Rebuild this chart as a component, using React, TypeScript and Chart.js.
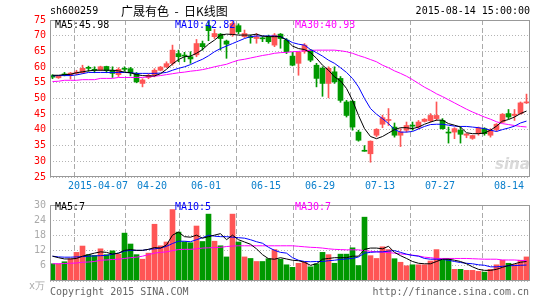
import React, { useEffect, useRef } from 'react';
import { Chart, registerables } from 'chart.js';

Chart.register(...registerables);

// ---- data ----
const opens = [57.3, 56.6, 57.6, 57.4, 58.0, 58.2, 59.8, 59.2, 59.1, 60.2, 59.0, 57.6, 59.5, 59.5, 58.0, 54.8, 56.7, 57.5, 59.0, 60.1,
  61.2, 64.3, 63.7, 63.3, 63.9, 67.5, 73.0, 69.7, 70.5, 68.3, 70.4, 73.2, 69.7, 69.7, 69.1, 69.2, 69.5, 67.0, 70.5, 68.6,
  63.5, 61.2, 65.0, 65.4, 60.6, 59.6, 54.8, 58.5, 56.4, 48.9, 49.1, 39.3, 33.2, 32.4, 38.3, 41.8, 43.0, 40.9, 38.3, 39.9,
  41.3, 40.9, 42.7, 42.9, 43.6, 43.0, 39.2, 39.3, 39.9, 38.3, 37.3, 38.8, 40.4, 38.3, 40.1, 42.5, 45.2, 44.6, 45.2, 48.6];
const closes = [56.8, 57.1, 57.5, 58.1, 58.4, 59.6, 59.6, 59.0, 60.1, 58.9, 58.0, 59.3, 59.3, 58.2, 55.3, 55.9, 57.4, 59.0, 60.0, 61.1,
  65.4, 63.3, 63.5, 62.6, 67.5, 66.5, 71.6, 70.7, 69.1, 67.3, 73.9, 71.3, 70.7, 69.4, 69.6, 69.0, 68.1, 70.2, 69.1, 64.9,
  60.6, 64.7, 67.0, 62.2, 56.4, 54.8, 59.6, 55.3, 49.4, 44.6, 40.9, 36.7, 33.2, 36.4, 40.2, 43.9, 43.3, 38.3, 39.3, 41.4,
  41.2, 42.5, 43.4, 44.6, 44.6, 40.4, 39.0, 40.4, 38.6, 38.7, 38.2, 40.6, 38.8, 39.9, 41.8, 45.0, 44.1, 45.0, 48.6, 48.8];
const highs = [57.6, 57.3, 58.3, 58.3, 59.0, 60.6, 60.3, 60.1, 60.3, 60.3, 60.1, 59.8, 60.1, 59.9, 58.3, 56.3, 57.8, 59.5, 60.2, 61.7,
  67.0, 65.4, 64.7, 64.9, 68.8, 68.3, 74.5, 72.0, 70.7, 68.6, 74.5, 73.8, 71.8, 70.2, 70.7, 69.7, 70.2, 70.7, 70.7, 69.1,
  64.7, 64.9, 67.5, 65.6, 61.2, 60.1, 60.1, 60.1, 57.0, 49.4, 49.4, 39.9, 35.0, 36.5, 40.4, 44.7, 46.8, 42.2, 40.4, 42.5,
  42.5, 43.0, 43.6, 45.2, 48.9, 43.6, 40.9, 40.7, 40.9, 38.8, 38.3, 40.9, 40.7, 40.4, 42.0, 45.2, 46.5, 46.5, 48.9, 51.4];
const lows = [56.3, 56.4, 57.2, 56.2, 57.6, 58.0, 58.7, 58.2, 58.9, 58.2, 56.7, 57.0, 58.7, 57.2, 55.0, 53.7, 56.3, 56.9, 58.8, 59.8,
  60.6, 61.7, 61.7, 61.2, 63.3, 65.4, 68.4, 69.1, 65.4, 62.8, 69.8, 70.6, 69.4, 67.6, 67.6, 68.1, 67.6, 66.5, 66.0, 64.3,
  60.4, 57.4, 64.4, 61.7, 53.7, 50.7, 50.2, 54.8, 48.8, 44.1, 39.9, 36.4, 33.2, 29.7, 37.8, 40.7, 41.4, 37.7, 34.7, 39.3,
  39.9, 40.4, 42.5, 42.5, 43.0, 40.2, 35.8, 37.2, 35.8, 37.5, 37.0, 38.3, 38.3, 37.7, 39.6, 42.3, 43.5, 43.0, 45.0, 48.4];
const volumes = [6.8, 6.8, 7.6, 8.8, 11.3, 13.8, 10.4, 10.1, 12.7, 10.4, 11.9, 10.6, 18.9, 14.6, 10.4, 8.6, 11.0, 22.4, 13.9, 15.4,
  28.2, 19.3, 15.5, 15.1, 21.7, 15.6, 26.4, 15.7, 13.9, 9.5, 26.4, 15.4, 9.5, 8.9, 7.7, 7.7, 8.8, 12.4, 8.6, 6.4,
  5.4, 7.0, 7.4, 5.6, 6.8, 11.3, 10.4, 7.0, 10.6, 10.6, 13.1, 6.1, 25.2, 10.0, 8.9, 13.5, 12.4, 8.8, 7.4, 6.0,
  6.4, 6.4, 6.4, 7.9, 12.4, 8.2, 8.8, 4.6, 4.6, 4.2, 4.2, 3.8, 3.5, 4.6, 6.4, 8.2, 7.0, 6.5, 8.2, 9.5];
const ma5 = [57.4, 57.4, 57.6, 57.7, 58.2, 58.5, 58.8, 59.0, 59.0, 59.0, 59.0, 58.8, 58.4, 58.2, 57.6, 57.3, 57.2, 57.2, 57.9, 59.3,
  61.0, 62.4, 63.3, 63.5, 64.4, 65.6, 67.3, 68.6, 70.2, 70.5, 70.4, 70.2, 70.2, 70.2, 70.5, 69.9, 69.7, 69.7, 69.7, 68.6,
  66.7, 65.9, 65.6, 64.6, 62.8, 60.6, 59.0, 56.9, 55.6, 53.2, 49.4, 44.6, 40.4, 37.9, 37.2, 37.9, 39.0, 40.1, 40.7, 40.7,
  40.4, 40.9, 41.8, 42.5, 43.1, 43.1, 42.0, 41.5, 40.9, 39.1, 38.8, 38.8, 39.0, 39.9, 41.2, 42.8, 43.3, 44.1, 45.2, 46.0];
const ma10 = [57.2, 57.3, 57.3, 57.3, 57.5, 57.9, 58.3, 58.3, 58.3, 58.3, 58.3, 58.3, 58.3, 58.2, 58.0, 58.0, 58.0, 58.0, 58.1, 58.3,
  59.0, 59.6, 60.1, 60.8, 61.7, 62.5, 63.6, 64.9, 65.9, 66.7, 67.5, 68.3, 69.1, 69.7, 69.9, 69.9, 69.9, 69.9, 69.7, 68.8,
  67.8, 67.3, 67.0, 65.6, 64.6, 63.5, 62.2, 61.2, 59.8, 58.3, 56.4, 53.7, 50.0, 46.8, 45.0, 43.6, 42.0, 40.1, 39.3, 39.3,
  39.5, 40.3, 41.1, 41.7, 41.8, 41.8, 41.5, 41.2, 41.1, 41.1, 40.9, 40.7, 40.4, 39.9, 39.5, 40.1, 40.6, 41.2, 42.2, 42.8];
const ma30 = [55.4, 55.5, 55.8, 55.8, 55.8, 56.0, 56.0, 56.0, 56.4, 56.4, 56.4, 56.7, 56.7, 56.7, 56.7, 56.7, 56.9, 57.1, 57.3, 57.6,
  57.9, 58.2, 58.4, 58.7, 58.9, 59.2, 59.6, 60.1, 60.5, 60.9, 61.6, 62.2, 62.5, 62.9, 63.3, 63.7, 64.0, 64.4, 64.6, 64.7,
  64.9, 65.0, 65.2, 65.3, 65.4, 65.4, 65.4, 65.4, 65.2, 64.9, 64.4, 63.7, 63.1, 62.4, 61.7, 60.6, 59.8, 58.8, 58.0, 57.1,
  56.0, 54.8, 53.6, 52.6, 51.5, 50.6, 49.6, 48.6, 47.6, 46.6, 45.7, 44.9, 44.1, 43.4, 42.6, 42.0, 41.7, 41.4, 41.1, 40.93];
const volMa5 = [9.8, 9.2, 8.7, 8.7, 8.9, 9.8, 10.4, 11.0, 11.5, 11.3, 10.6, 11.0, 12.1, 12.4, 12.1, 12.1, 12.5, 13.2, 13.0, 14.2,
  18.1, 19.3, 17.5, 17.3, 18.1, 16.9, 17.5, 18.1, 18.7, 16.3, 18.1, 16.3, 15.4, 14.5, 12.7, 10.4, 8.8, 8.6, 9.2, 8.7,
  8.2, 8.0, 7.4, 6.2, 6.8, 8.6, 8.9, 9.2, 9.2, 9.2, 9.8, 9.8, 12.5, 13.0, 13.0, 12.7, 13.7, 11.3, 10.0, 8.9,
  7.7, 7.0, 6.8, 6.8, 7.7, 8.6, 8.6, 8.2, 7.7, 6.8, 5.6, 4.6, 4.2, 4.2, 4.6, 5.4, 6.1, 6.8, 7.4, 7.7];
const volMa10 = [9.8, 9.5, 9.4, 9.4, 9.5, 9.6, 9.8, 9.9, 10.0, 10.1, 10.6, 11.0, 11.8, 12.1, 12.1, 12.1, 12.5, 12.7, 13.0, 13.7,
  14.8, 15.7, 15.7, 15.5, 16.3, 17.1, 18.1, 17.7, 17.5, 17.5, 17.3, 17.1, 16.9, 16.3, 15.5, 14.9, 13.3, 12.1, 11.3, 11.0,
  9.2, 8.2, 7.7, 7.6, 7.7, 7.7, 8.0, 8.2, 8.5, 8.7, 8.9, 9.5, 11.0, 11.3, 11.5, 11.5, 11.8, 12.0, 11.3, 10.6,
  10.1, 9.8, 8.9, 8.6, 8.6, 8.5, 8.2, 7.7, 7.3, 7.0, 6.8, 6.4, 6.2, 5.6, 5.6, 5.8, 6.0, 6.1, 6.2, 6.3];
const volMa30 = [6.8, 6.8, 6.9, 7.0, 7.1, 7.4, 7.5, 7.7, 8.2, 8.3, 8.5, 8.6, 8.9, 9.2, 9.4, 9.8, 10.4, 11.0, 11.3, 11.5,
  12.0, 12.4, 12.5, 12.5, 12.7, 13.0, 13.1, 13.2, 13.3, 13.6, 13.8, 13.9, 13.9, 13.9, 13.9, 13.9, 13.9, 13.9, 13.9, 13.9,
  13.9, 13.7, 13.5, 13.3, 13.2, 13.0, 12.7, 12.5, 12.4, 12.3, 12.3, 12.3, 12.0, 11.7, 11.5, 11.4, 11.2, 11.0, 10.7, 10.5,
  10.2, 9.9, 9.4, 9.2, 8.9, 8.9, 8.9, 8.9, 8.9, 8.9, 8.8, 8.7, 8.6, 8.6, 8.6, 8.3, 8.3, 8.3, 8.1, 8.1];

const tickIndex = [8, 17, 26, 36, 45, 55, 65, 79];
const tickLabels = ['2015-04-07', '04-20', '06-01', '06-15', '06-29', '07-13', '07-27', '08-14'];
const priceMin = 25, priceMax = 75, priceStep = 5;
const volMin = 0, volMax = 30, volStep = 6;

const RED = '#ff5555';
const GREEN = '#009900';
const MONO = "'DejaVu Sans Mono', monospace";
const X_MIN = -0.5 + 1 / 12;
const X_MAX = X_MIN + opens.length;

const colors = opens.map((o, i) => (closes[i] > o ? RED : GREEN));
const xy = (arr: number[]) => arr.map((v, i) => ({ x: i, y: v }));

const framePlugin = {
  id: 'frame',
  afterDraw(chart: any) {
    const { ctx, chartArea: a } = chart;
    ctx.save();
    ctx.strokeStyle = '#999999';
    ctx.lineWidth = 1;
    ctx.setLineDash([]);
    ctx.strokeRect(Math.round(a.left) + 0.5, Math.round(a.top) + 0.5, Math.round(a.right - a.left) - 1, Math.round(a.bottom - a.top) - 1);
    ctx.restore();
  },
};

function xScale(showLabels: boolean, height: number) {
  return {
    type: 'linear',
    min: X_MIN,
    max: X_MAX,
    bounds: 'data',
    offset: false,
    afterBuildTicks: (s: any) => {
      s.ticks = [{ value: X_MIN }, ...tickIndex.map((i) => ({ value: i + X_MIN }))];
    },
    afterFit: (s: any) => {
      s.height = height;
    },
    grid: { color: '#aaaaaa', drawTicks: false, lineWidth: 1 },
    border: { display: false, dash: [5, 3] },
    ticks: {
      display: showLabels,
      autoSkip: false,
      maxRotation: 0,
      minRotation: 0,
      align: 'inner',
      padding: 3,
      color: '#0a7fcc',
      font: { family: MONO, size: 10 },
      callback: (_v: any, idx: number) => (idx === 0 ? '' : tickLabels[idx - 1]),
    },
  };
}

function yScale(min: number, max: number, step: number, color: string, hideZero: boolean) {
  return {
    min,
    max,
    afterFit: (s: any) => {
      s.width = 50;
    },
    grid: { color: '#b4b4b4', drawTicks: false, lineWidth: 1 },
    border: { display: false, dash: [1, 2] },
    ticks: {
      stepSize: step,
      padding: 4,
      color,
      font: { family: MONO, size: 10 },
      callback: (v: any) => (hideZero && v === 0 ? '' : String(v)),
    },
  };
}

const line = (data: number[], color: string) => ({
  type: 'line',
  data: xy(data),
  borderColor: color,
  borderWidth: 1,
  pointRadius: 0,
  tension: 0,
  order: 0,
});

export default function App() {
  const priceRef = useRef<HTMLCanvasElement>(null);
  const volRef = useRef<HTMLCanvasElement>(null);

  useEffect(() => {
    document.body.style.margin = '0';
    const common: any = {
      responsive: false,
      maintainAspectRatio: false,
      animation: false,
      devicePixelRatio: 1,
      events: [],
      plugins: { legend: { display: false }, tooltip: { enabled: false }, title: { display: false } },
    };
    const price = new Chart(priceRef.current as HTMLCanvasElement, {
      type: 'bar',
      data: {
        datasets: [
          line(ma5, '#000000'),
          line(ma10, '#0000ff'),
          line(ma30, '#ff00ff'),
          {
            type: 'bar',
            data: opens.map((o, i) => ({ x: i, y: [o, closes[i]] })),
            backgroundColor: colors,
            barThickness: 5,
            minBarLength: 1,
            grouped: false,
            borderWidth: 0,
            order: 1,
          },
          {
            type: 'bar',
            data: lows.map((l, i) => ({ x: i, y: [l, highs[i]] })),
            backgroundColor: colors,
            barThickness: 1,
            grouped: false,
            borderWidth: 0,
            order: 2,
          },
        ] as any,
      },
      options: {
        ...common,
        layout: { padding: { top: 20, right: 15, left: 0, bottom: 0 } },
        scales: {
          x: xScale(true, 18) as any,
          y: yScale(priceMin, priceMax, priceStep, '#ff0000', false) as any,
        },
      },
      plugins: [framePlugin],
    });
    const vol = new Chart(volRef.current as HTMLCanvasElement, {
      type: 'bar',
      data: {
        datasets: [
          line(volMa5, '#000000'),
          line(volMa10, '#0000ff'),
          line(volMa30, '#ff00ff'),
          {
            type: 'bar',
            data: xy(volumes),
            backgroundColor: colors,
            barThickness: 5,
            grouped: false,
            borderWidth: 0,
            order: 1,
          },
        ] as any,
      },
      options: {
        ...common,
        layout: { padding: { top: 7, right: 15, left: 0, bottom: 0 } },
        scales: {
          x: xScale(false, 19) as any,
          y: yScale(volMin, volMax, volStep, '#aaaaaa', true) as any,
        },
      },
      plugins: [framePlugin],
    });
    return () => {
      price.destroy();
      vol.destroy();
    };
  }, []);

  const txt = (extra: React.CSSProperties): React.CSSProperties => ({
    position: 'absolute',
    font: `10px ${MONO}`,
    lineHeight: '12px',
    whiteSpace: 'pre',
    ...extra,
  });

  return (
    <div style={{ position: 'fixed', left: 0, top: 0, width: 545, height: 300, background: '#fff', overflow: 'hidden' }}>
      <canvas ref={priceRef} width={545} height={195} style={{ position: 'absolute', left: 0, top: 0, width: 545, height: 195 }} />
      <canvas ref={volRef} width={545} height={105} style={{ position: 'absolute', left: 0, top: 195, width: 545, height: 105 }} />
      <span style={txt({ left: 50, top: 5, color: '#000' })}>sh600259</span>
      <span style={txt({ left: 121, top: 3, color: '#000', font: "12px 'Noto Sans CJK SC', sans-serif", lineHeight: '15px' })}>{'广晟有色  -  日K线图'}</span>
      <span style={txt({ right: 15, top: 5, color: '#000' })}>2015-08-14 15:00:00</span>
      <span style={txt({ left: 55, top: 19, color: '#000' })}>MA5:45.98</span>
      <span style={txt({ left: 175, top: 19, color: '#0000ff' })}>MA10:42.82</span>
      <span style={txt({ left: 295, top: 19, color: '#ff00ff' })}>MA30:40.93</span>
      <span style={txt({ left: 55, top: 201, color: '#000' })}>MA5:7</span>
      <span style={txt({ left: 175, top: 201, color: '#0000ff' })}>MA10:5</span>
      <span style={txt({ left: 295, top: 201, color: '#ff00ff' })}>MA30:7</span>
      <span style={txt({ left: 29, top: 280, color: '#aaaaaa' })}>x万</span>
      <span style={txt({ left: 50, top: 286, color: '#666666' })}>Copyright 2015 SINA.COM</span>
      <span style={txt({ right: 16, top: 286, color: '#666666' })}>http://finance.sina.com.cn</span>
      <span style={txt({ left: 495, top: 155, color: 'rgba(205,205,205,0.75)', font: `italic bold 15px 'DejaVu Sans', sans-serif`, lineHeight: '18px' })}>sina</span>
    </div>
  );
}
